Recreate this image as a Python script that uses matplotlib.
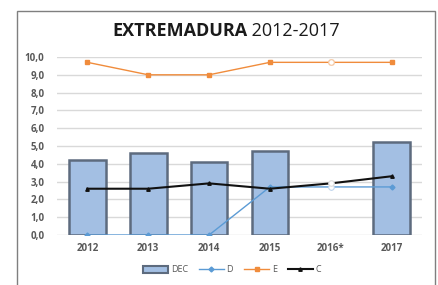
import matplotlib
matplotlib.use("Agg")
import matplotlib.pyplot as plt
from matplotlib.patches import Rectangle
from matplotlib.lines import Line2D
import numpy as np

years = ["2012", "2013", "2014", "2015", "2016*", "2017"]
dec = [4.2, 4.6, 4.1, 4.7, np.nan, 5.2]
d_vals = [0.0, 0.0, 0.0, 2.7, 2.7, 2.7]
e_vals = [9.7, 9.0, 9.0, 9.7, 9.7, 9.7]
c_vals = [2.6, 2.6, 2.9, 2.6, 2.9, 3.3]
estimated = [False, False, False, False, True, False]
yticks = [0, 1, 2, 3, 4, 5, 6, 7, 8, 9, 10]

plt.rcParams['font.family'] = ['Open Sans', 'DejaVu Sans']

fig = plt.figure(figsize=(4.38, 2.85), dpi=100)
W, H = 438, 285
# outer frame
fig.patches.append(Rectangle((17 / W, -0.1), (435 - 17) / W, (1 - 11 / H) + 0.1,
                             transform=fig.transFigure, fill=False,
                             edgecolor='#7f7f7f', linewidth=1.0))

ax = fig.add_axes([57 / W, 1 - 235 / H, (422 - 57) / W, (235 - 57) / H])
x = np.arange(len(years))

ax.bar(x, dec, width=0.6, color='#a3bfe3', edgecolor='#5d6b7e', linewidth=1.8, zorder=2)

grey = '#595959'
ax.plot(x, d_vals, color='#5b9bd5', linewidth=1.0, marker='D', markersize=2.5, zorder=3)
ax.plot(x, e_vals, color='#f08c3c', linewidth=1.0, marker='s', markersize=3.5, zorder=3, clip_on=False)
ax.plot(x, c_vals, color='#111111', linewidth=1.5, marker='^', markersize=2.5, zorder=4)

for xi, est in zip(x, estimated):
    if est:
        ax.plot(xi, d_vals[xi], marker='o', markersize=4, markerfacecolor='white',
                markeredgecolor='#c5d8ee', markeredgewidth=0.8, zorder=5)
        ax.plot(xi, e_vals[xi], marker='o', markersize=4, markerfacecolor='white',
                markeredgecolor='#f5c9a4', markeredgewidth=0.8, zorder=5, clip_on=False)
        ax.plot(xi, c_vals[xi], marker='o', markersize=4, markerfacecolor='white',
                markeredgecolor='#dddddd', markeredgewidth=0.8, zorder=5)

ax.set_ylim(0, 10)
ax.set_xlim(-0.5, len(years) - 0.5)
ax.set_yticks(yticks)
ax.set_yticklabels([f"{v:.1f}".replace('.', ',') for v in yticks],
                   fontsize=7, color=grey, fontweight='bold')
ax.set_xticks(x)
ax.set_xticklabels(years, fontsize=7, color=grey, fontweight='bold')
ax.tick_params(axis='y', length=0, pad=9)
ax.tick_params(axis='x', length=0, pad=6)
ax.yaxis.grid(True, color='#d9d9d9', linewidth=1.0, zorder=0)
ax.set_axisbelow(True)
for s in ax.spines.values():
    s.set_visible(False)

fig.text(247 / W, 1 - 31 / H, "EXTREMADURA", ha='right', va='center',
         fontsize=13, fontweight='bold', color='#1a1a1a')
fig.text(247 / W, 1 - 31 / H, " 2012-2017", ha='left', va='center',
         fontsize=13, color='#1a1a1a')

handles = [
    Rectangle((0, 0), 1, 1, facecolor='#a3bfe3', edgecolor='#5d6b7e', linewidth=1.5),
    Line2D([], [], color='#5b9bd5', marker='D', markersize=2.5, linewidth=1.0),
    Line2D([], [], color='#f08c3c', marker='s', markersize=3.5, linewidth=1.0),
    Line2D([], [], color='#111111', marker='^', markersize=2.5, linewidth=1.5),
]
fig.legend(handles, ["DEC", "D", "E", "C"], loc='center', bbox_to_anchor=(232 / W, 1 - 270 / H),
           ncol=4, frameon=False, fontsize=6.5, handlelength=2.8, handletextpad=0.3,
           columnspacing=1.2, labelcolor=grey)

fig.savefig("out.png", dpi=100)
